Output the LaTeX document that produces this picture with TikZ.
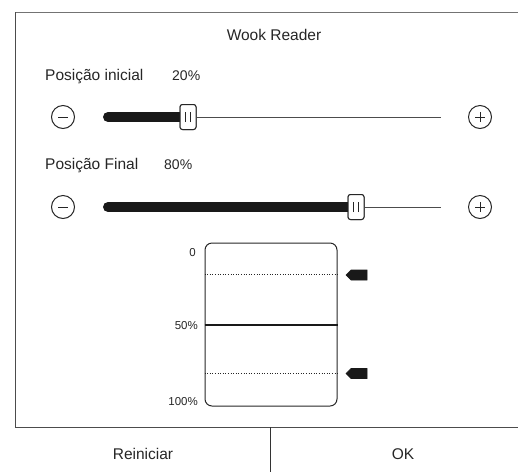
\documentclass[tikz,border=0pt]{standalone}
\usepackage{fontspec}
\setmainfont{Liberation Sans}
\begin{document}
\begin{tikzpicture}[x=1pt,y=-1pt,
  lbl/.style={inner sep=0pt,font=\fontsize{15.5}{18}\selectfont,text=black!85},
  num/.style={inner sep=0pt,font=\fontsize{14}{16}\selectfont,text=black!85},
  small/.style={inner sep=0pt,font=\fontsize{11.5}{13}\selectfont,text=black!85},
  roundbtn/.style={circle,draw=black!85,line width=1pt,minimum size=23pt,inner sep=0pt},
  thick track/.style={line width=10pt,line cap=round,draw=black!90},
  thin track/.style={line width=0.8pt,draw=black!70},
  knob/.style={draw=black!85,fill=white,line width=1pt,rounded corners=2.5pt,minimum width=16pt,minimum height=25pt,inner sep=0pt},
  tag/.style={fill=black!90,draw=black!90,line width=0.6pt}
]
\useasboundingbox (0,0) rectangle (518,472);
% frame
\draw[black!55,line width=0.8pt] (15,12) -- (518,12);
\draw[black!70,line width=0.8pt] (15,12) -- (15,427);
\draw[black!70,line width=0.8pt] (15,427) -- (518,427);
\draw[black!80,line width=0.9pt] (270,427) -- (270,472);
% title
\node[lbl,anchor=base] (title) at (274,40) {Wook Reader};
% slider 1
\node[lbl,anchor=base west] (pi) at (45,80) {Posição inicial};
\node[num,anchor=base west] (pv) at (172,80) {20\%};
\node[roundbtn] (m1) at (63,117) {};
\draw[black!85,line width=1pt] ([xshift=-5pt]m1.center) -- ([xshift=5pt]m1.center);
\node[roundbtn] (p1) at (480,117) {};
\draw[black!85,line width=1pt] ([xshift=-5pt]p1.center) -- ([xshift=5pt]p1.center) ([yshift=-5pt]p1.center) -- ([yshift=5pt]p1.center);
\coordinate (s1a) at (108,117);
\coordinate (s1e) at (441,117);
\node[knob] (k1) at (188,117) {};
\draw[thick track] (s1a) -- (k1.west);
\draw[thin track] (k1.east) -- (s1e);
\node[knob] at (k1) {};
\draw[black!85,line width=1pt] ([xshift=-2.5pt,yshift=-5pt]k1.center) -- ([xshift=-2.5pt,yshift=5pt]k1.center)
  ([xshift=2.5pt,yshift=-5pt]k1.center) -- ([xshift=2.5pt,yshift=5pt]k1.center);
% slider 2
\node[lbl,anchor=base west] (pf) at (45,169) {Posição Final};
\node[num,anchor=base west] (fv) at (164,169) {80\%};
\node[roundbtn] (m2) at (63,207) {};
\draw[black!85,line width=1pt] ([xshift=-5pt]m2.center) -- ([xshift=5pt]m2.center);
\node[roundbtn] (p2) at (480,207) {};
\draw[black!85,line width=1pt] ([xshift=-5pt]p2.center) -- ([xshift=5pt]p2.center) ([yshift=-5pt]p2.center) -- ([yshift=5pt]p2.center);
\coordinate (s2a) at (108,207);
\coordinate (s2e) at (441,207);
\node[knob] (k2) at (356,207) {};
\draw[thick track] (s2a) -- (k2.west);
\draw[thin track] (k2.east) -- (s2e);
\node[knob] at (k2) {};
\draw[black!85,line width=1pt] ([xshift=-2.5pt,yshift=-5pt]k2.center) -- ([xshift=-2.5pt,yshift=5pt]k2.center)
  ([xshift=2.5pt,yshift=-5pt]k2.center) -- ([xshift=2.5pt,yshift=5pt]k2.center);
% chart
\node[draw=black!85,line width=1pt,rounded corners=7pt,minimum width=132pt,minimum height=163pt,inner sep=0pt] (box) at (271,324.5) {};
\node[small,anchor=base east] (l0) at (196,256) {0};
\node[small,anchor=base east] (l50) at (198,329) {50\%};
\node[small,anchor=base east] (l100) at (198,405) {100\%};
\draw[black!85,line width=0.6pt,dotted] (box.west |- 0,274) -- (box.east |- 0,274);
\draw[black!90,line width=1.2pt] (box.west |- 0,325) -- (box.east |- 0,325);
\draw[black!85,line width=0.6pt,dotted] (box.west |- 0,373) -- (box.east |- 0,373);
\draw[tag] (346,275) -- (351,270) -- (367,270) -- (367,280) -- (351,280) -- cycle;
\draw[tag] (346,373.5) -- (351,368.5) -- (367,368.5) -- (367,378.5) -- (351,378.5) -- cycle;
% buttons
\node[lbl,anchor=base] (reset) at (143,459) {Reiniciar};
\node[lbl,anchor=base] (ok) at (403,459) {OK};
\end{tikzpicture}
\end{document}
